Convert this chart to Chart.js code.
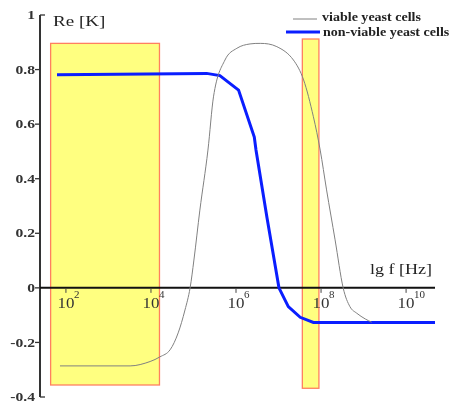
<!DOCTYPE html>
<html><head><meta charset="utf-8">
<script src="https://cdn.jsdelivr.net/npm/chart.js@4.4.1/dist/chart.umd.min.js"></script>
<style>html,body{margin:0;padding:0;background:#fff}#wrap{width:451px;height:402px}</style>
</head><body><div id="wrap"><canvas id="c" width="451" height="402"></canvas></div>
<script>
// lg f [Hz] positions and Re[K] values
const viableX = [1.86,3.51,3.98,4.21,4.45,4.64,4.80,4.92,5.01,5.15,5.34,5.47,5.74,6.02,6.33,6.57,6.96,7.35,7.59,7.82,7.98,8.13,8.33,8.52,8.68,8.84,9.04,9.19];
const viableY = [-0.286,-0.286,-0.270,-0.253,-0.227,-0.165,-0.081,0,0.102,0.285,0.505,0.70,0.835,0.878,0.894,0.896,0.884,0.835,0.762,0.627,0.505,0.359,0.176,0,-0.069,-0.093,-0.114,-0.126];
const nonViableX = [1.79,5.31,5.62,6.06,6.43,6.47,6.73,7.01,7.23,7.51,7.82,10.68];
const nonViableY = [0.781,0.786,0.778,0.725,0.553,0.505,0.256,0,-0.069,-0.108,-0.127,-0.127];
const seriesLabels = ['viable yeast cells','non-viable yeast cells'];
const yTicks = [1,0.8,0.6,0.4,0.2,0,-0.2,-0.4];
const yTickLabels = ['1','0.8','0.6','0.4','0.2','0','-0.2','-0.4'];
const xTicks = [2,4,6,8,10];
const xTickBase = ['10','10','10','10','10'];
const xTickExp = ['2','4','6','8','10'];
// highlighted bands: [xFrom, xTo, yFrom, yTo]
const bandA = [1.64,4.20,-0.356,0.896];
const bandB = [7.56,7.95,-0.368,0.912];
const yTitle = 'Re [K]';
const xTitle = 'lg f [Hz]';

const pts = (xs, ys) => xs.map((x,i)=>({x, y: ys[i]}));
const serif = '"Liberation Serif","DejaVu Serif",serif';

// draw text horizontally stretched by factor s; align: 'left'|'right'|'center'
function sText(ctx, txt, x, y, s, align) {
  const w = ctx.measureText(txt).width * s;
  let lx = x;
  if (align === 'right') lx = x - w;
  else if (align === 'center') lx = x - w/2;
  ctx.save();
  ctx.textAlign = 'left';
  ctx.translate(lx, y);
  ctx.scale(s, 1);
  ctx.fillText(txt, 0, 0);
  ctx.restore();
  return w;
}

const bandsPlugin = {
  id: 'bands',
  beforeDatasetsDraw(chart) {
    const {ctx, scales:{x, y}} = chart;
    ctx.save();
    [bandA, bandB].forEach(b => {
      const x1 = x.getPixelForValue(b[0]), x2 = x.getPixelForValue(b[1]);
      const y1 = y.getPixelForValue(b[3]), y2 = y.getPixelForValue(b[2]);
      ctx.fillStyle = '#FFFF80';
      ctx.fillRect(x1, y1, x2-x1, y2-y1);
      ctx.strokeStyle = '#FF8060';
      ctx.lineWidth = 1.3;
      ctx.strokeRect(x1, y1, x2-x1, y2-y1);
    });
    // axes
    const x0 = x.getPixelForValue(x.min), xEnd = x.getPixelForValue(x.max);
    const yZero = y.getPixelForValue(0);
    const yTop = y.getPixelForValue(y.max), yBot = y.getPixelForValue(y.min);
    ctx.strokeStyle = '#333';
    ctx.lineWidth = 2;
    ctx.beginPath(); ctx.moveTo(x0, yTop); ctx.lineTo(x0, yBot); ctx.stroke();
    ctx.strokeStyle = '#111';
    ctx.beginPath(); ctx.moveTo(x0, yZero); ctx.lineTo(xEnd, yZero); ctx.stroke();
    // y ticks
    ctx.lineWidth = 1.3;
    ctx.strokeStyle = '#333';
    ctx.fillStyle = '#333';
    ctx.font = 'bold 12px ' + serif;
    ctx.textBaseline = 'middle';
    yTicks.forEach((v,i) => {
      const py = y.getPixelForValue(v);
      ctx.beginPath();
      if (i === 0 || i === yTicks.length-1) { ctx.moveTo(x0, py); ctx.lineTo(x0+5, py); }
      else { ctx.moveTo(x0-5, py); ctx.lineTo(x0, py); }
      ctx.stroke();
      sText(ctx, yTickLabels[i], x0-5, py+1, 1.3, 'right');
    });
    // x ticks
    ctx.textBaseline = 'alphabetic';
    xTicks.forEach((v,i) => {
      const px = x.getPixelForValue(v);
      ctx.strokeStyle = '#444'; ctx.lineWidth = 1;
      ctx.beginPath(); ctx.moveTo(px, yZero+1); ctx.lineTo(px, yZero+5); ctx.stroke();
      ctx.fillStyle = '#333';
      ctx.font = '15px ' + serif;
      const w = sText(ctx, xTickBase[i], px, yZero+20, 1.13, 'center');
      ctx.font = '10px ' + serif;
      sText(ctx, xTickExp[i], px + w/2 - 0.5, yZero+10, 1.1, 'left');
    });
    // titles
    ctx.fillStyle = '#222';
    ctx.font = '15px ' + serif;
    ctx.textBaseline = 'middle';
    sText(ctx, yTitle, x0+13, y.getPixelForValue(0.975), 1.27, 'left');
    sText(ctx, xTitle, xEnd-3, yZero-18, 1.2, 'right');
    ctx.restore();
  },
  afterDraw(chart) {
    const {ctx} = chart;
    ctx.save();
    ctx.font = 'bold 11.5px ' + serif;
    ctx.fillStyle = '#222';
    ctx.textBaseline = 'middle';
    ctx.strokeStyle = '#808080'; ctx.lineWidth = 1;
    ctx.beginPath(); ctx.moveTo(293, 19); ctx.lineTo(317, 19); ctx.stroke();
    sText(ctx, seriesLabels[0], 322, 18, 1.22, 'left');
    ctx.strokeStyle = '#0A1EFF'; ctx.lineWidth = 3;
    ctx.beginPath(); ctx.moveTo(286, 32); ctx.lineTo(320, 32); ctx.stroke();
    sText(ctx, seriesLabels[1], 323, 33, 1.22, 'left');
    ctx.restore();
  }
};

new Chart(document.getElementById('c'), {
  type: 'line',
  data: {
    datasets: [
      {label: seriesLabels[0], data: pts(viableX, viableY), borderColor: '#808080', borderWidth: 1, pointRadius: 0, cubicInterpolationMode: 'monotone', fill: false},
      {label: seriesLabels[1], data: pts(nonViableX, nonViableY), borderColor: '#0A1EFF', borderWidth: 3, pointRadius: 0, tension: 0, fill: false}
    ]
  },
  options: {
    responsive: false, animation: false, devicePixelRatio: 1,
    layout: {padding: {left: 40, right: 16, top: 15, bottom: 5}},
    plugins: {legend: {display: false}, tooltip: {enabled: false}},
    scales: {
      x: {type: 'linear', min: 1.39, max: 10.68, display: false},
      y: {type: 'linear', min: -0.4, max: 1, display: false}
    }
  },
  plugins: [bandsPlugin]
});
</script></body></html>
